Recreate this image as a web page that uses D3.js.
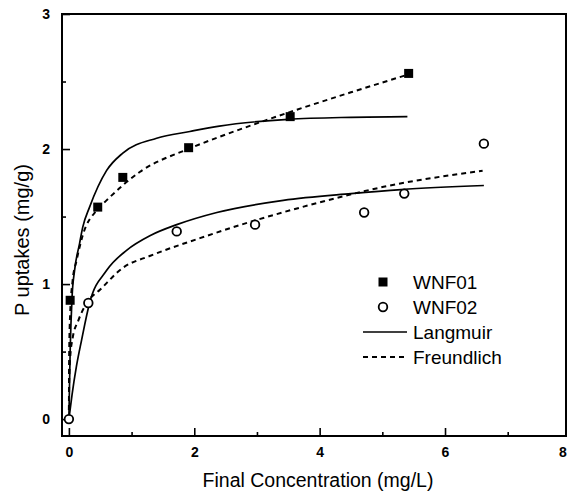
<!DOCTYPE html>
<html>
<head>
<meta charset="utf-8">
<script src="https://cdn.jsdelivr.net/npm/d3@7"></script>
<style>
  body { margin: 0; background: #fff; }
  svg { display: block; font-family: "Liberation Sans", Arial, sans-serif; }
</style>
</head>
<body>
<svg id="chart" width="568" height="499"></svg>
<script>
// measured points (final concentration mg/L, P uptake mg/g)
var wnf01 = [[0.02, 0.88], [0.46, 1.57], [0.86, 1.79], [1.91, 2.01], [3.53, 2.24], [5.42, 2.56]];
var wnf02 = [[0, 0], [0.31, 0.86], [1.72, 1.39], [2.97, 1.44], [4.71, 1.53], [5.35, 1.67], [6.62, 2.04]];

// fitted curves
var lang01 = [[0, 0], [0.02, 0.5], [0.05, 0.9], [0.09, 1.1], [0.17, 1.3], [0.22, 1.42], [0.33, 1.57],
  [0.6, 1.84], [0.86, 1.97], [1.4, 2.08], [1.93, 2.13], [2.4, 2.17], [3.5, 2.22], [4.5, 2.235], [5.4, 2.24]];
var freu01 = [[0, 0], [0.005, 0.5], [0.02, 0.78], [0.06, 1.03], [0.12, 1.17], [0.22, 1.36], [0.45, 1.55],
  [0.6, 1.62], [1.13, 1.83], [1.9, 2.0], [2.4, 2.09], [3.0, 2.19], [3.5, 2.27], [4.5, 2.42], [5.4, 2.55]];
var lang02 = [[0, 0], [0.05, 0.18], [0.12, 0.39], [0.2, 0.58], [0.33, 0.86], [0.6, 1.1], [0.92, 1.25],
  [1.3, 1.36], [1.72, 1.44], [2.36, 1.53], [3.42, 1.62], [4.5, 1.67], [5.3, 1.7], [6.62, 1.73]];
var freu02 = [[0, 0], [0.005, 0.3], [0.02, 0.45], [0.06, 0.6], [0.15, 0.73], [0.3, 0.87], [0.5, 0.96],
  [0.86, 1.12], [1.3, 1.21], [2.09, 1.34], [2.89, 1.46], [3.96, 1.6], [5.02, 1.72], [6.6, 1.84]];

var xTicks = [0, 2, 4, 6, 8];
var xMinor = [1, 3, 5, 7];
var yTicks = [0, 1, 2, 3];
var yMinor = [0.5, 1.5, 2.5];

var legendItems = ['WNF01', 'WNF02', 'Langmuir', 'Freundlich'];

var svg = d3.select('#chart');

var x = d3.scaleLinear().domain([-0.11, 7.93]).range([62, 566]);
var y = d3.scaleLinear().domain([-0.125, 3]).range([436, 14]);

// axes, ticks pointing inwards
var gx = svg.append('g')
  .attr('transform', 'translate(0,' + y.range()[0] + ')')
  .call(d3.axisBottom(x).tickValues(xTicks).tickFormat(d3.format('d'))
    .tickSizeInner(-8).tickSizeOuter(0).tickPadding(11));
svg.append('g')
  .attr('transform', 'translate(0,' + y.range()[0] + ')')
  .call(d3.axisBottom(x).tickValues(xMinor).tickSizeInner(-4).tickSizeOuter(0).tickFormat(''));
var gy = svg.append('g')
  .attr('transform', 'translate(' + x.range()[0] + ',0)')
  .call(d3.axisLeft(y).tickValues(yTicks).tickFormat(d3.format('d'))
    .tickSizeInner(-8).tickSizeOuter(0).tickPadding(12));
svg.append('g')
  .attr('transform', 'translate(' + x.range()[0] + ',0)')
  .call(d3.axisLeft(y).tickValues(yMinor).tickSizeInner(-4).tickSizeOuter(0).tickFormat(''));

svg.selectAll('.domain').remove();
svg.selectAll('.tick line').attr('stroke', '#000').attr('stroke-width', 1.6);
svg.selectAll('.tick text')
  .attr('font-size', 14)
  .attr('font-weight', 'bold')
  .attr('fill', '#000')
  .attr('font-family', '"Liberation Sans", Arial, sans-serif');

// the "8" sits on the page edge; keep it just inside
gx.selectAll('.tick text').filter(function(d){ return d === 8; })
  .attr('text-anchor', 'end').attr('dx', -4);

// frame
svg.append('rect')
  .attr('x', x.range()[0])
  .attr('y', y.range()[1])
  .attr('width', x.range()[1] - x.range()[0])
  .attr('height', y.range()[0] - y.range()[1])
  .attr('fill', 'none')
  .attr('stroke', '#000')
  .attr('stroke-width', 2);

// curves
var line = d3.line()
  .x(function(d){ return x(d[0]); })
  .y(function(d){ return y(d[1]); })
  .curve(d3.curveMonotoneX);

[lang01, lang02].forEach(function(c){
  svg.append('path').attr('d', line(c))
    .attr('fill', 'none').attr('stroke', '#000').attr('stroke-width', 1.7);
});
[freu01, freu02].forEach(function(c){
  svg.append('path').attr('d', line(c))
    .attr('fill', 'none').attr('stroke', '#000').attr('stroke-width', 2)
    .attr('stroke-dasharray', '5,4');
});

// markers
var sq = 9;
svg.selectAll('.sq').data(wnf01).enter().append('rect')
  .attr('class', 'sq')
  .attr('x', function(d){ return x(d[0]) - sq/2; })
  .attr('y', function(d){ return y(d[1]) - sq/2; })
  .attr('width', sq).attr('height', sq)
  .attr('fill', '#000');

svg.selectAll('.circ').data(wnf02).enter().append('circle')
  .attr('class', 'circ')
  .attr('cx', function(d){ return x(d[0]); })
  .attr('cy', function(d){ return y(d[1]); })
  .attr('r', 4.3)
  .attr('fill', '#fff')
  .attr('stroke', '#000')
  .attr('stroke-width', 1.8);

// legend
var lg = svg.append('g').attr('transform', 'translate(363,282)');
var rowH = 25;
lg.selectAll('text').data(legendItems).enter().append('text')
  .attr('x', 50)
  .attr('y', function(d, i){ return i*rowH; })
  .attr('dy', '0.35em')
  .attr('font-size', 19)
  .attr('fill', '#000')
  .text(function(d){ return d; });
lg.append('rect').attr('x', 20 - 4.5).attr('y', -4.5).attr('width', 9).attr('height', 9).attr('fill', '#000');
lg.append('circle').attr('cx', 20).attr('cy', rowH).attr('r', 4.3)
  .attr('fill', '#fff').attr('stroke', '#000').attr('stroke-width', 1.8);
lg.append('line').attr('x1', 0).attr('x2', 44).attr('y1', 2*rowH).attr('y2', 2*rowH)
  .attr('stroke', '#000').attr('stroke-width', 1.7);
lg.append('line').attr('x1', 0).attr('x2', 44).attr('y1', 3*rowH).attr('y2', 3*rowH)
  .attr('stroke', '#000').attr('stroke-width', 2).attr('stroke-dasharray', '5,4');

// axis titles
svg.append('text')
  .attr('x', 318).attr('y', 487)
  .attr('text-anchor', 'middle')
  .attr('font-size', 19.5)
  .attr('fill', '#000')
  .text('Final Concentration (mg/L)');
svg.append('text')
  .attr('transform', 'translate(29,240) rotate(-90)')
  .attr('text-anchor', 'middle')
  .attr('font-size', 20)
  .attr('fill', '#000')
  .text('P uptakes (mg/g)');
</script>
</body>
</html>
